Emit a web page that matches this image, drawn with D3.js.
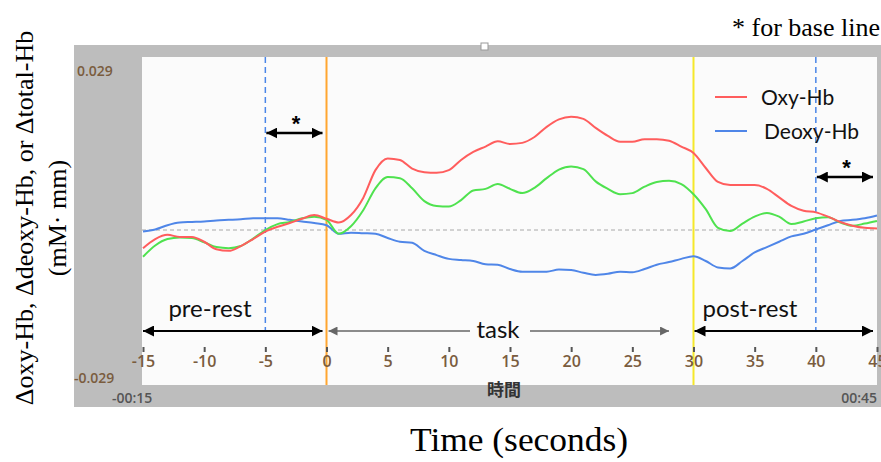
<!DOCTYPE html>
<html>
<head>
<meta charset="utf-8">
<script src="https://cdn.jsdelivr.net/npm/d3@7"></script>
<style>
body { margin: 0; background: #fff; }
</style>
</head>
<body>
<svg width="881" height="462"></svg>
<script>
// time in seconds (0 = task onset)
var seconds = [-15,-14,-13,-12,-11,-10,-9,-8,-7,-6,-5,-4,-3,-2,-1,0,1,2,3,4,5,6,7,8,9,10,
  11,12,13,14,15,16,17,18,19,20,21,22,23,24,25,26,27,28,29,30,31,32,33,34,35,36,37,38,39,40,
  41,42,43,44,45];

var oxyHb = [-0.0034,-0.0017,-0.0009,-0.0013,-0.0013,-0.0022,-0.0036,-0.0039,-0.0030,-0.0017,
  -0.0003,0.0006,0.0013,0.0021,0.0028,0.0021,0.0014,0.0028,0.0060,0.0112,0.0134,0.0131,0.0115,
  0.0108,0.0107,0.0112,0.0131,0.0146,0.0156,0.0166,0.0161,0.0163,0.0174,0.0193,0.0207,0.0212,
  0.0208,0.0191,0.0176,0.0165,0.0165,0.0170,0.0170,0.0167,0.0156,0.0144,0.0116,0.0090,0.0084,
  0.0084,0.0084,0.0077,0.0061,0.0045,0.0036,0.0033,0.0025,0.0015,0.0008,0.0004,0.0003];

var deoxyHb = [-0.0003,0.0001,0.0009,0.0014,0.0015,0.0016,0.0018,0.0019,0.0020,0.0022,0.0022,
  0.0022,0.0019,0.0016,0.0013,0.0009,-0.0007,-0.0005,-0.0006,-0.0007,-0.0015,-0.0022,-0.0024,
  -0.0039,-0.0047,-0.0054,-0.0056,-0.0058,-0.0064,-0.0065,-0.0073,-0.0078,-0.0078,-0.0078,
  -0.0074,-0.0075,-0.0080,-0.0084,-0.0082,-0.0078,-0.0079,-0.0073,-0.0065,-0.0060,-0.0054,
  -0.0049,-0.0058,-0.0070,-0.0072,-0.0058,-0.0042,-0.0032,-0.0022,-0.0012,-0.0007,0.0001,
  0.0009,0.0017,0.0019,0.0022,0.0027];

var totalHb = [-0.0050,-0.0029,-0.0017,-0.0014,-0.0015,-0.0023,-0.0032,-0.0034,-0.0030,-0.0016,
  0.0000,0.0011,0.0015,0.0022,0.0025,0.0019,-0.0007,0.0007,0.0037,0.0078,0.0099,0.0097,0.0078,
  0.0054,0.0045,0.0044,0.0056,0.0074,0.0077,0.0086,0.0077,0.0069,0.0079,0.0097,0.0113,0.0119,
  0.0114,0.0091,0.0077,0.0067,0.0069,0.0081,0.0090,0.0092,0.0086,0.0067,0.0039,0.0004,-0.0002,
  0.0012,0.0025,0.0032,0.0025,0.0011,0.0016,0.0022,0.0024,0.0014,0.0008,0.0012,0.0017];

var xTicks = [-15,-10,-5,0,5,10,15,20,25,30,35,40,45];
var yLimits = [-0.029, 0.029];
var legendNames = ["Oxy-Hb", "Deoxy-Hb"];
var phaseNames = ["pre-rest", "task", "post-rest"];
var phaseStarts = [-15, 0, 30];
var phaseEnds = [0, 28, 45];
var baseWindows = [[-5, 0], [40, 45]];

var svg = d3.select("svg");

// window frame
svg.append("rect").attr("x", 74).attr("y", 45).attr("width", 807).attr("height", 362)
  .attr("fill", "#bdbdbd");
svg.append("rect").attr("x", 142).attr("y", 57).attr("width", 735).attr("height", 328)
  .attr("fill", "#fbfbfb");
svg.append("rect").attr("x", 481).attr("y", 43).attr("width", 7).attr("height", 7)
  .attr("fill", "#fff").attr("stroke", "#999");

var x = d3.scaleLinear().domain([-15, 45]).range([143, 877]);
var y = d3.scaleLinear().domain(yLimits).range([385, 75]);

// zero line
svg.append("line")
  .attr("x1", 142).attr("x2", 877).attr("y1", y(0)).attr("y2", y(0))
  .attr("stroke", "#a8a8a8").attr("stroke-dasharray", "4,3").attr("stroke-width", 1);

// base line window boundaries
svg.selectAll(".bl").data([-5, 40]).enter().append("line")
  .attr("x1", function(d) { return x(d); }).attr("x2", function(d) { return x(d); })
  .attr("y1", 57).attr("y2", 330)
  .attr("stroke", "#4a86e8").attr("stroke-width", 1.5).attr("stroke-dasharray", "6,4");

// task onset / end
svg.append("line").attr("x1", x(0)).attr("x2", x(0)).attr("y1", 57).attr("y2", 385)
  .attr("stroke", "#ffa630").attr("stroke-width", 2);
svg.append("line").attr("x1", x(30)).attr("x2", x(30)).attr("y1", 57).attr("y2", 385)
  .attr("stroke", "#f5e82a").attr("stroke-width", 2);

// signals
var series = [
  { values: deoxyHb, color: "#4f86e8" },
  { values: totalHb, color: "#4fe24f" },
  { values: oxyHb, color: "#ff5d5d" }
];
var line = d3.line()
  .x(function(d, i) { return x(seconds[i]); })
  .y(function(d) { return y(d); })
  .curve(d3.curveMonotoneX);

svg.selectAll(".sig").data(series).enter().append("path")
  .attr("d", function(s) { return line(s.values); })
  .attr("fill", "none")
  .attr("stroke", function(s) { return s.color; })
  .attr("stroke-width", 2);

// x axis
var xAxis = svg.append("g")
  .attr("transform", "translate(0,347)")
  .call(d3.axisBottom(x).tickValues(xTicks).tickSize(5).tickPadding(4)
    .tickFormat(function(d) { return String(d); }));
xAxis.select(".domain").remove();
xAxis.selectAll("line").attr("stroke", "#555").attr("stroke-width", 2);
xAxis.selectAll("text")
  .attr("fill", "#7a5c3e")
  .style("font", "600 16px 'Open Sans', sans-serif");

var smallFont = "600 14px 'Open Sans', sans-serif";
svg.append("text").attr("x", 77).attr("y", 76).text(yLimits[1].toFixed(3))
  .attr("fill", "#7a5c3e").style("font", smallFont);
svg.append("text").attr("x", 74).attr("y", 383).text(yLimits[0].toFixed(3))
  .attr("fill", "#7a5c3e").style("font", smallFont);
svg.append("text").attr("x", 112).attr("y", 403).text("-00:15")
  .attr("fill", "#555").style("font", smallFont);
svg.append("text").attr("x", 877).attr("y", 403).text("00:45").attr("text-anchor", "end")
  .attr("fill", "#555").style("font", smallFont);
svg.append("text").attr("x", 487).attr("y", 396).text("時間")
  .attr("fill", "#333").style("font", "bold 17px 'Noto Sans CJK JP', sans-serif");

// arrow markers
var defs = svg.append("defs");
function marker(id, color, size, reverse) {
  defs.append("marker").attr("id", id)
    .attr("viewBox", "0 0 10 10").attr("refX", reverse ? 0 : 10).attr("refY", 5)
    .attr("markerUnits", "userSpaceOnUse")
    .attr("markerWidth", size).attr("markerHeight", size)
    .attr("orient", "auto")
    .append("path")
    .attr("d", reverse ? "M10,0L0,5L10,10z" : "M0,0L10,5L0,10z")
    .attr("fill", color);
}
marker("bEnd", "#000", 11, false);
marker("bStart", "#000", 11, true);
marker("gEnd", "#666", 9, false);
marker("gStart", "#666", 9, true);

var arrowY = 331;
function arrow(x1, x2, yy, color, w, m) {
  svg.append("line").attr("x1", x1).attr("x2", x2).attr("y1", yy).attr("y2", yy)
    .attr("stroke", color).attr("stroke-width", w)
    .attr("marker-start", "url(#" + m + "Start)")
    .attr("marker-end", "url(#" + m + "End)");
}

// phases
arrow(x(phaseStarts[0]), x(phaseEnds[0]) - 4, arrowY, "#000", 2, "b");
arrow(x(phaseStarts[2]) + 1, x(phaseEnds[2]) - 4, arrowY, "#000", 2, "b");
// task arrow is split around the label
svg.append("line").attr("x1", x(phaseStarts[1]) + 2).attr("x2", 470)
  .attr("y1", arrowY).attr("y2", arrowY)
  .attr("stroke", "#666").attr("stroke-width", 1.5).attr("marker-start", "url(#gStart)");
svg.append("line").attr("x1", 530).attr("x2", x(phaseEnds[1]))
  .attr("y1", arrowY).attr("y2", arrowY)
  .attr("stroke", "#666").attr("stroke-width", 1.5).attr("marker-end", "url(#gEnd)");

var phaseLabelX = [210, 498, 750];
svg.selectAll(".ph").data(phaseNames).enter().append("text")
  .attr("x", function(d, i) { return phaseLabelX[i]; })
  .attr("y", function(d, i) { return i == 1 ? 338 : 317; })
  .attr("text-anchor", "middle")
  .attr("fill", "#111")
  .style("font", "24px Lato, sans-serif")
  .text(function(d) { return d; });

// base line windows
var baseY = [133, 177];
baseWindows.forEach(function(w, i) {
  arrow(x(w[0]) + 1, x(w[1]) - 4, baseY[i], "#000", 2.5, "b");
  svg.append("text").attr("x", (x(w[0]) + x(w[1])) / 2).attr("y", baseY[i] - 2)
    .attr("text-anchor", "middle").style("font", "bold 22px 'Liberation Sans', sans-serif")
    .text("*");
});

// legend
var legendColors = ["#ff5d5d", "#4f86e8"];
var legendY = [97, 131];
var legendTextX = [761, 764];
legendNames.forEach(function(n, i) {
  svg.append("line").attr("x1", 715).attr("x2", 747).attr("y1", legendY[i]).attr("y2", legendY[i])
    .attr("stroke", legendColors[i]).attr("stroke-width", 2);
  svg.append("text").attr("x", legendTextX[i]).attr("y", legendY[i] + 8)
    .style("font", "21px Lato, sans-serif").attr("fill", "#111").text(n);
});

// outer labels
svg.append("text").attr("x", 732).attr("y", 36)
  .style("font", "26px 'Liberation Serif', serif").text("* for base line");

svg.append("text").attr("x", 410).attr("y", 451)
  .attr("textLength", 218).attr("lengthAdjust", "spacingAndGlyphs")
  .style("font", "33px 'Liberation Serif', serif").text("Time (seconds)");

var ylab = svg.append("g").attr("transform", "translate(33,218) rotate(-90)");
ylab.append("text").attr("text-anchor", "middle")
  .style("font", "26px 'Liberation Serif', serif")
  .text("Δoxy-Hb, Δdeoxy-Hb, or Δtotal-Hb");
ylab.append("text").attr("text-anchor", "middle").attr("y", 33)
  .style("font", "26px 'Liberation Serif', serif")
  .text("(mM· mm)");
</script>
</body>
</html>
